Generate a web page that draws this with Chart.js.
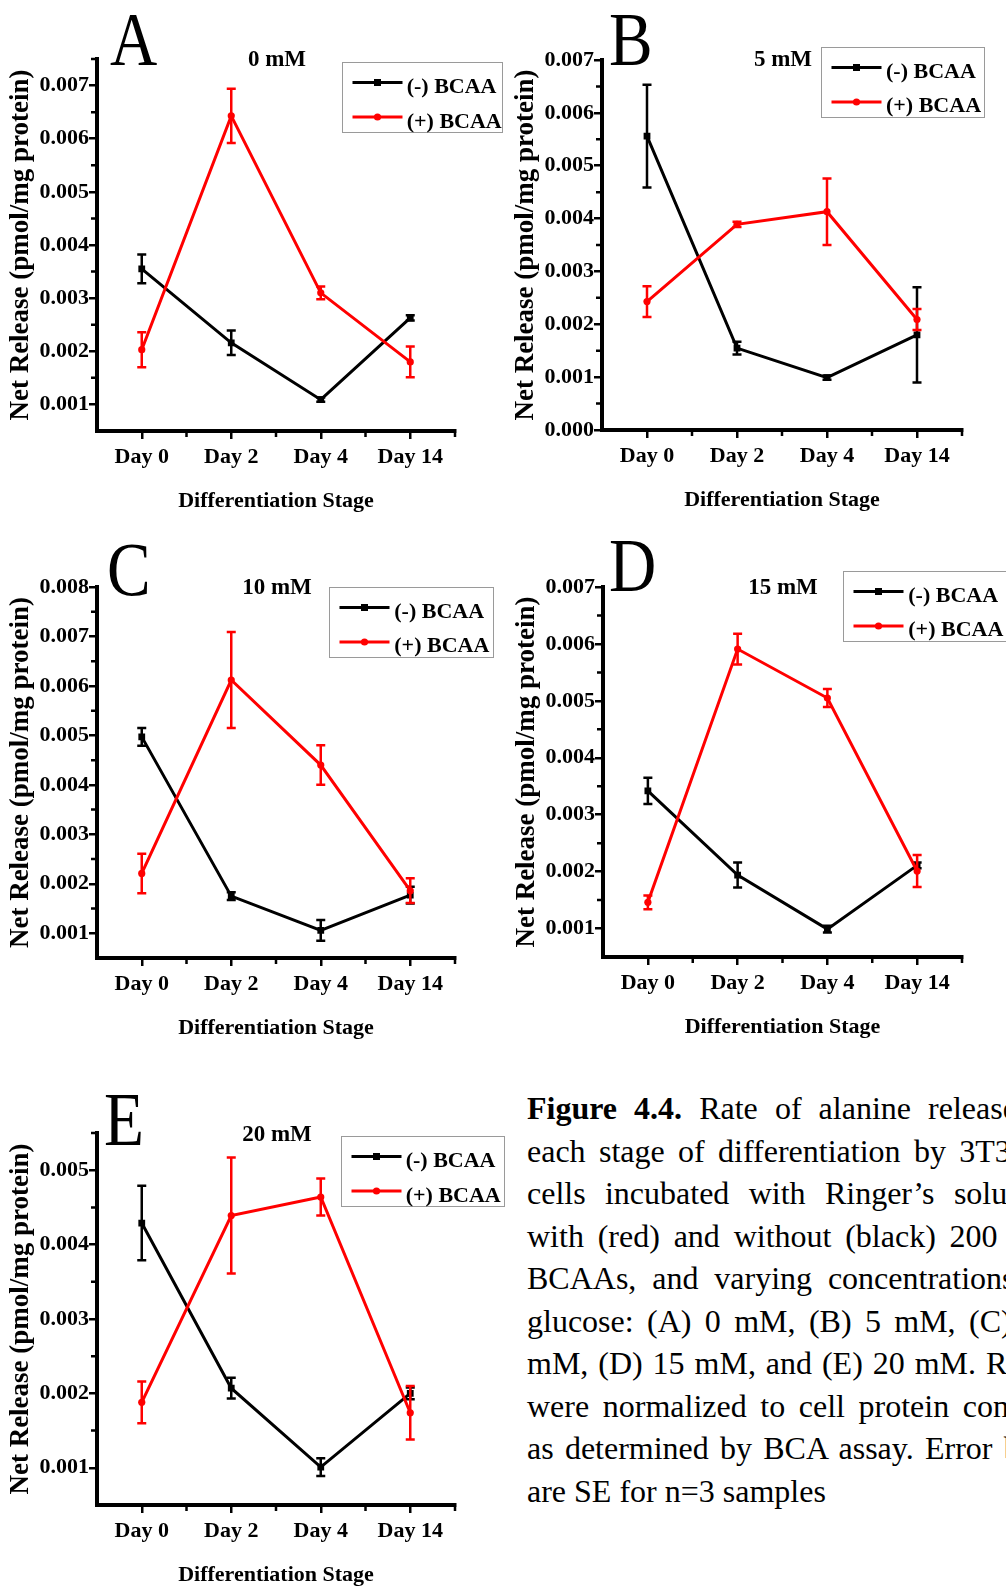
<!DOCTYPE html>
<html>
<head>
<meta charset="utf-8">
<script src="https://cdn.jsdelivr.net/npm/chart.js@4.4.1/dist/chart.umd.min.js"></script>
<style>
html,body{margin:0;padding:0;background:#fff;}
body{width:1006px;height:1593px;overflow:hidden;position:relative;}
.cv{position:absolute;z-index:1;}
.letter{position:absolute;z-index:2;font-family:"Liberation Serif","Times New Roman",serif;font-size:77px;line-height:77px;transform:scaleX(0.85);transform-origin:0 0;white-space:nowrap;color:#000;}
.ptitle{position:absolute;z-index:2;font-family:"Liberation Serif","Times New Roman",serif;font-weight:bold;font-size:23px;line-height:23px;white-space:nowrap;transform:translateX(-50%);color:#000;}
.legend{position:absolute;z-index:3;border:1px solid #9a9a9a;background:#fff;box-sizing:border-box;height:71px;}
.legend svg{position:absolute;left:0;top:0;}
.legend span{position:absolute;left:64px;font-family:"Liberation Serif","Times New Roman",serif;font-weight:bold;font-size:22px;line-height:22px;white-space:nowrap;color:#000;}
.caption{position:absolute;z-index:2;left:527px;top:1087px;width:530px;font-family:"Liberation Serif","Times New Roman",serif;font-size:32px;line-height:42.5px;color:#000;}
.caption div{white-space:nowrap;text-align:justify;text-align-last:justify;}
.caption div.last{text-align-last:left;}
</style>
</head>
<body>
<script>
// ---------------- data ----------------
const categories = ['Day 0', 'Day 2', 'Day 4', 'Day 14'];
const seriesLabels = ['(-) BCAA', '(+) BCAA'];
const panelLetters = ['A', 'B', 'C', 'D', 'E'];
const concentrations = ['0 mM', '5 mM', '10 mM', '15 mM', '20 mM'];
const yTitle = 'Net Release (pmol/mg protein)';
const xTitle = 'Differentiation Stage';

// Panel A (0 mM)
const minusA    = [0.00355, 0.00216, 0.00109, 0.00263];
const minusErrA = [0.00027, 0.00023, 0.00004, 0.00005];
const plusA     = [0.00203, 0.00643, 0.00310, 0.00180];
const plusErrA  = [0.00033, 0.00051, 0.00012, 0.00029];
const yRangeA   = [0.0005, 0.0075];

// Panel B (5 mM)
const minusB    = [0.00556, 0.00155, 0.00099, 0.00180];
const minusErrB = [0.00097, 0.00012, 0.00004, 0.00090];
const plusB     = [0.00243, 0.00389, 0.00413, 0.00209];
const plusErrB  = [0.00029, 0.00005, 0.00063, 0.00020];
const yRangeB   = [0.0, 0.007];

// Panel C (10 mM)
const minusC    = [0.00497, 0.00175, 0.00106, 0.00177];
const minusErrC = [0.00018, 0.00008, 0.00021, 0.00017];
const plusC     = [0.00221, 0.00612, 0.00440, 0.00186];
const plusErrC  = [0.00040, 0.00097, 0.00040, 0.00025];
const yRangeC   = [0.0005, 0.008];

// Panel D (15 mM)
const minusD    = [0.00342, 0.00194, 0.00099, 0.00211];
const minusErrD = [0.00023, 0.00022, 0.00006, 0.00005];
const plusD     = [0.00146, 0.00591, 0.00505, 0.00201];
const plusErrD  = [0.00012, 0.00027, 0.00016, 0.00028];
const yRangeD   = [0.0005, 0.007];

// Panel E (20 mM)
const minusE    = [0.00429, 0.00207, 0.00101, 0.00200];
const minusErrE = [0.00050, 0.00014, 0.00012, 0.00008];
const plusE     = [0.00188, 0.00439, 0.00464, 0.00174];
const plusErrE  = [0.00028, 0.00078, 0.00025, 0.00036];
const yRangeE   = [0.0005, 0.0055];

const yMajorStep = 0.001;

// ---------------- layout (positions only) ----------------
const FONT = '"Liberation Serif", "Times New Roman", serif';
const panels = [
  {minus: minusA, minusErr: minusErrA, plus: plusA, plusErr: plusErrA, yr: yRangeA,
   area: {left: 97, right: 455, top: 59, bottom: 431},
   letter: {x: 110, y: 0.5}, title: {x: 277, y: 47.4}, legend: {x: 341.7, y: 62.3, w: 161}},
  {minus: minusB, minusErr: minusErrB, plus: plusB, plusErr: plusErrB, yr: yRangeB,
   area: {left: 602, right: 962, top: 60, bottom: 430},
   letter: {x: 609, y: 0.5}, title: {x: 783, y: 47.4}, legend: {x: 821, y: 46.7, w: 164}},
  {minus: minusC, minusErr: minusErrC, plus: plusC, plusErr: plusErrC, yr: yRangeC,
   area: {left: 97, right: 455, top: 587, bottom: 958},
   letter: {x: 107, y: 530.5}, title: {x: 277, y: 574.7}, legend: {x: 329.3, y: 586.7, w: 165}},
  {minus: minusD, minusErr: minusErrD, plus: plusD, plusErr: plusErrD, yr: yRangeD,
   area: {left: 603, right: 962, top: 587, bottom: 957},
   letter: {x: 609, y: 527}, title: {x: 783, y: 574.7}, legend: {x: 843.3, y: 570.7, w: 175}},
  {minus: minusE, minusErr: minusErrE, plus: plusE, plusErr: plusErrE, yr: yRangeE,
   area: {left: 97, right: 455, top: 1133, bottom: 1505},
   letter: {x: 104, y: 1080.5}, title: {x: 277, y: 1122.4}, legend: {x: 340.7, y: 1136, w: 164}}
];

const Y_AXIS_W = 97, PAD_TOP = 50, PAD_RIGHT = 30, X_AXIS_H = 85, PAD_BOTTOM = 10;

// ---------------- plugins ----------------
const errorBars = {
  id: 'errorBars',
  afterDatasetDraw(chart, args) {
    const ds = chart.data.datasets[args.index];
    if (!ds.errors) return;
    const y = chart.scales.y, ctx = chart.ctx;
    ctx.save();
    ctx.strokeStyle = ds.borderColor;
    ctx.lineWidth = 2.5;
    ctx.lineCap = 'butt';
    args.meta.data.forEach((pt, j) => {
      const v = ds.data[j], e = ds.errors[j];
      const yt = y.getPixelForValue(v + e), yb = y.getPixelForValue(v - e);
      ctx.beginPath();
      ctx.moveTo(pt.x, yt); ctx.lineTo(pt.x, yb);
      ctx.moveTo(pt.x - 4.5, yt); ctx.lineTo(pt.x + 4.5, yt);
      ctx.moveTo(pt.x - 4.5, yb); ctx.lineTo(pt.x + 4.5, yb);
      ctx.stroke();
    });
    ctx.restore();
  }
};

const minorTicks = {
  id: 'minorTicks',
  afterDraw(chart) {
    const {ctx, chartArea, scales: {x, y}} = chart;
    ctx.save();
    ctx.strokeStyle = '#000';
    ctx.lineWidth = 2.5;
    ctx.beginPath();
    const half = yMajorStep / 2;
    const k0 = Math.round(y.min / half), k1 = Math.round(y.max / half);
    for (let k = k0 + 1; k <= k1; k++) {
      if (k % 2 === 0) continue;
      const py = y.getPixelForValue(k * half);
      ctx.moveTo(chartArea.left - 2, py);
      ctx.lineTo(chartArea.left - 6, py);
    }
    for (let i = 0; i < categories.length; i++) {
      const px = x.getPixelForValue(i + 0.5);
      ctx.moveTo(px, chartArea.bottom + 2);
      ctx.lineTo(px, chartArea.bottom + 6);
    }
    ctx.stroke();
    ctx.restore();
  }
};

// ---------------- build ----------------
panels.forEach((p, idx) => {
  const a = p.area;
  const x0 = a.left - Y_AXIS_W, y0 = a.top - PAD_TOP;
  const w = a.right - x0 + PAD_RIGHT;
  const h = (a.bottom - y0) + X_AXIS_H + PAD_BOTTOM;
  const cv = document.createElement('canvas');
  cv.className = 'cv';
  cv.width = w; cv.height = h;
  cv.style.left = x0 + 'px'; cv.style.top = y0 + 'px';
  cv.style.width = w + 'px'; cv.style.height = h + 'px';
  document.body.appendChild(cv);

  new Chart(cv, {
    type: 'line',
    data: {
      labels: categories,
      datasets: [
        {label: seriesLabels[0], data: p.minus, errors: p.minusErr,
         borderColor: '#000000', backgroundColor: '#000000', borderWidth: 3,
         pointStyle: 'rect', pointRadius: 4.8, pointBorderWidth: 0, tension: 0, order: 1},
        {label: seriesLabels[1], data: p.plus, errors: p.plusErr,
         borderColor: '#ff0000', backgroundColor: '#ff0000', borderWidth: 3,
         pointStyle: 'circle', pointRadius: 3.6, pointBorderWidth: 0, tension: 0, order: 0}
      ]
    },
    options: {
      responsive: false, animation: false, devicePixelRatio: 1,
      events: [],
      layout: {padding: {left: 0, top: PAD_TOP, right: PAD_RIGHT, bottom: PAD_BOTTOM}},
      plugins: {legend: {display: false}, tooltip: {enabled: false}, title: {display: false}},
      scales: {
        x: {
          type: 'category', offset: true,
          grid: {display: true, drawOnChartArea: false, drawTicks: true, tickLength: 8,
                 lineWidth: 2.5, color: '#000', offset: false},
          border: {display: true, width: 4, color: '#000'},
          ticks: {color: '#000', font: {family: FONT, size: 22, weight: 'bold'},
                  padding: 5, maxRotation: 0, autoSkip: false},
          title: {display: true, text: xTitle, color: '#000',
                  font: {family: FONT, size: 22, weight: 'bold'}, padding: {top: 0, bottom: 1}},
          afterFit(s) { s.height = X_AXIS_H; }
        },
        y: {
          type: 'linear', min: p.yr[0], max: p.yr[1],
          grid: {display: true, drawOnChartArea: false, drawTicks: true, tickLength: 8,
                 lineWidth: 2.5, color: '#000'},
          border: {display: true, width: 4, color: '#000'},
          ticks: {color: '#000', font: {family: FONT, size: 22, weight: 'bold'}, padding: 0,
                  callback: v => Number(v).toFixed(3)},
          afterBuildTicks(s) {
            const t = [];
            const k0 = Math.ceil(s.min / yMajorStep - 1e-9), k1 = Math.floor(s.max / yMajorStep + 1e-9);
            for (let k = k0; k <= k1; k++) t.push({value: +(k * yMajorStep).toFixed(6)});
            s.ticks = t;
          },
          title: {display: true, text: yTitle, color: '#000',
                  font: {family: FONT, size: 27, weight: 'bold'}, padding: {top: 4.5, bottom: 0}},
          afterFit(s) { s.width = Y_AXIS_W; }
        }
      }
    },
    plugins: [errorBars, minorTicks]
  });

  // panel letter
  const L = document.createElement('div');
  L.className = 'letter';
  L.textContent = panelLetters[idx];
  L.style.left = p.letter.x + 'px'; L.style.top = p.letter.y + 'px';
  document.body.appendChild(L);

  // panel title
  const T = document.createElement('div');
  T.className = 'ptitle';
  T.textContent = concentrations[idx];
  T.style.left = p.title.x + 'px'; T.style.top = p.title.y + 'px';
  document.body.appendChild(T);

  // legend
  const G = document.createElement('div');
  G.className = 'legend';
  G.style.left = p.legend.x + 'px'; G.style.top = p.legend.y + 'px'; G.style.width = p.legend.w + 'px';
  G.innerHTML =
    '<svg width="64" height="71" xmlns="http://www.w3.org/2000/svg">' +
    '<line x1="9.5" y1="19.5" x2="59.5" y2="19.5" stroke="#000" stroke-width="3"/>' +
    '<rect x="31" y="16" width="7" height="7" fill="#000"/>' +
    '<line x1="9.5" y1="54" x2="59.5" y2="54" stroke="#ff0000" stroke-width="3"/>' +
    '<circle cx="34.5" cy="54" r="3.6" fill="#ff0000"/></svg>' +
    '<span style="top:12px">' + seriesLabels[0] + '</span>' +
    '<span style="top:46.5px">' + seriesLabels[1] + '</span>';
  document.body.appendChild(G);
});
</script>
<div class="caption">
<div><b>Figure 4.4.</b> Rate of alanine release at</div>
<div>each stage of differentiation by 3T3-L1</div>
<div>cells incubated with Ringer’s solution</div>
<div>with (red) and without (black) 200 μM</div>
<div>BCAAs, and varying concentrations of</div>
<div>glucose: (A) 0 mM, (B) 5 mM, (C) 10</div>
<div>mM, (D) 15 mM, and (E) 20 mM. Rates</div>
<div>were normalized to cell protein content</div>
<div>as determined by BCA assay. Error bars</div>
<div class="last">are SE for n=3 samples</div>
</div>
</body>
</html>
